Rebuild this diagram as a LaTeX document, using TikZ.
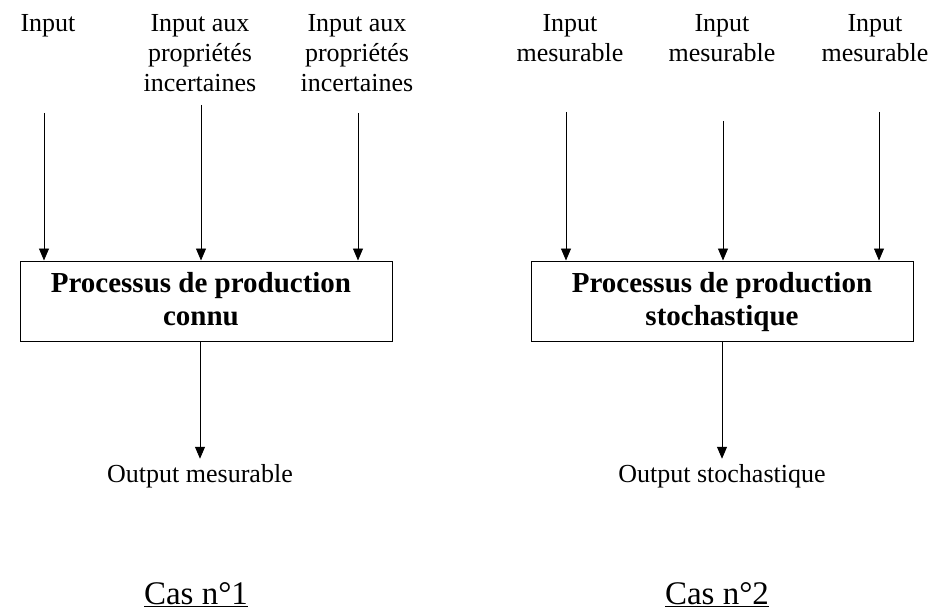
\documentclass[tikz,border=0pt]{standalone}
\usepackage{fontspec}
\setmainfont{Liberation Serif}
\usetikzlibrary{arrows.meta}
\begin{document}
\begin{tikzpicture}[x=1pt,y=-1pt,
  lbl/.style={inner sep=0pt, anchor=base, align=center, font=\fontsize{26}{30}\selectfont},
  proc/.style={draw, line width=1pt, inner sep=0pt, minimum height=80pt},
  ptxt/.style={inner sep=0pt, anchor=base, align=center, font=\fontsize{29}{33}\selectfont\bfseries},
  arr/.style={line width=0.9pt, -{Triangle[length=12pt,width=10pt]}},
  cas/.style={inner sep=0pt, anchor=base, font=\fontsize{33}{38}\selectfont}]
\useasboundingbox (0,0) rectangle (933,612);

% process boxes (base anchor of a multi-line node sits on its last line)
\node[proc, minimum width=372pt] (box1) at (206,301) {};
\node[proc, minimum width=382pt] (box2) at (722,301) {};
\node[ptxt] (p1) at (201,325) {Processus de production\\connu};
\node[ptxt] (p2) at (722,325) {Processus de production\\stochastique};

% inputs
\node[lbl] (in1) at (48,32) {Input};
\node[lbl] (in2) at (200,92) {Input aux\\propriétés\\incertaines};
\node[lbl] (in3) at (357,92) {Input aux\\propriétés\\incertaines};
\node[lbl] (in4) at (570,62) {Input\\mesurable};
\node[lbl] (in5) at (722,62) {Input\\mesurable};
\node[lbl] (in6) at (875,62) {Input\\mesurable};

\coordinate (a1) at (44,113);
\coordinate (a2) at (201,105);
\coordinate (a3) at (358,113);
\coordinate (a4) at (566,112);
\coordinate (a5) at (723,121);
\coordinate (a6) at (879,112);

\draw[arr] (a1) -- (a1 |- box1.north);
\draw[arr] (a2) -- (a2 |- box1.north);
\draw[arr] (a3) -- (a3 |- box1.north);
\draw[arr] (a4) -- (a4 |- box2.north);
\draw[arr] (a5) -- (a5 |- box2.north);
\draw[arr] (a6) -- (a6 |- box2.north);

% outputs
\node[lbl] (out1) at (200,482) {Output mesurable};
\node[lbl] (out2) at (722,482) {Output stochastique};
\draw[arr] (box1.south -| out1) -- ([yshift=5pt]out1.north);
\draw[arr] (box2.south -| out2) -- ([yshift=5pt]out2.north);

% case captions
\node[cas] (cas1) at (196,604) {\underline{Cas n°1}};
\node[cas] (cas2) at (717,604) {\underline{Cas n°2}};
\end{tikzpicture}
\end{document}
